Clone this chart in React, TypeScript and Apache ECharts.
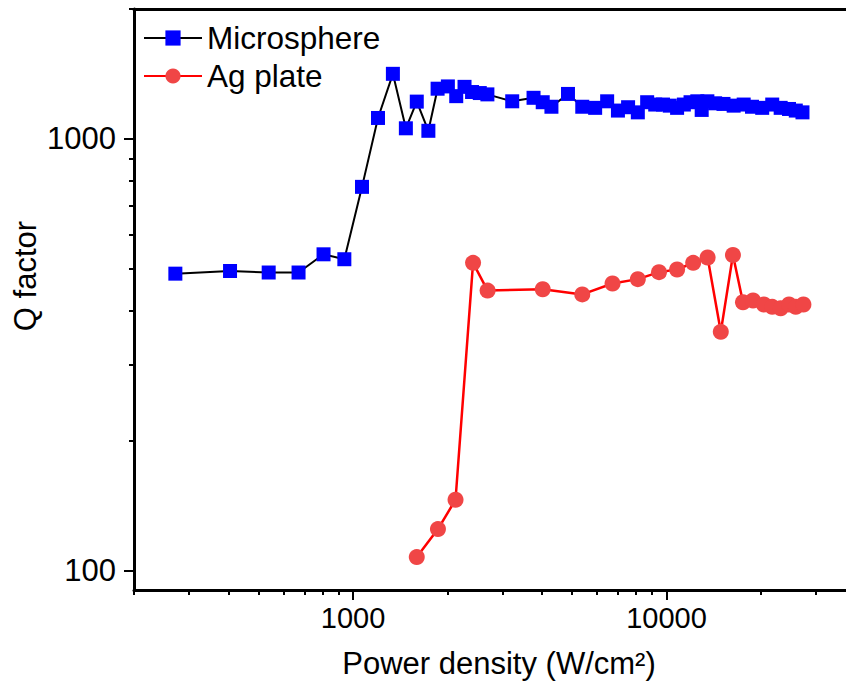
import React, { useEffect, useRef } from "react";
import * as echarts from "echarts";

// Microsphere data (power density W/cm², Q factor)
const microX = [271, 405, 538, 670, 805, 938, 1068, 1201, 1340, 1474, 1597, 1739, 1861, 2007, 2134, 2268, 2397, 2537, 2683, 3220, 3766, 4029, 4295, 4850, 5387, 5922, 6468, 7001, 7543, 8103, 8678, 9207, 9748, 10245, 10813, 11362, 11935, 12544, 12954, 13506, 14297, 15204, 16384, 17636, 18750, 20207, 21752, 23142, 24606, 25862, 27164];
const microY = [487, 494, 490, 490, 540, 526, 774, 1118, 1415, 1058, 1220, 1044, 1307, 1323, 1256, 1320, 1284, 1277, 1268, 1222, 1245, 1216, 1187, 1271, 1187, 1180, 1222, 1163, 1184, 1152, 1216, 1201, 1201, 1194, 1180, 1201, 1216, 1222, 1167, 1222, 1209, 1205, 1194, 1201, 1187, 1180, 1201, 1180, 1173, 1163, 1152];

// Ag plate data
const agX = [1597, 1866, 2123, 2415, 2687, 4029, 5387, 6728, 8103, 9467, 10813, 12170, 13530, 14907, 16297, 17546, 18890, 20457, 21752, 23142, 24606, 25862, 27355];
const agY = [107.3, 124.6, 145.7, 516, 445, 448, 436, 462, 473, 491, 498, 516, 531, 357, 538, 418, 422, 413, 408, 405, 413, 408, 413];

// Axis ticks
const xMajorTicks = [1000, 10000];
const xMinorTicks = [200, 300, 400, 500, 600, 700, 800, 900, 2000, 3000, 4000, 5000, 6000, 7000, 8000, 9000, 20000, 30000];
const yMajorTicks = [100, 1000];
const yMinorTicks = [200, 300, 400, 500, 600, 700, 800, 900, 2000];
const xMin = 200;
const xMax = 37400;
const yMin = 90;
const yMax = 2000;

const seriesNames = ["Microsphere", "Ag plate"];
const xTitle = "Power density (W/cm²)";
const yTitle = "Q factor";

const FONT = "'Liberation Sans', Arial, Helvetica, sans-serif";

export default function App() {
  const ref = useRef<HTMLDivElement>(null);
  useEffect(() => {
    if (!ref.current) return;
    const chart = echarts.init(ref.current, null, { renderer: "svg" });
    const fmt = (v: number) => String(Math.round(v));
    const option: any = {
      animation: false,
      backgroundColor: "#fff",
      grid: { left: 134, right: 0, top: 9, bottom: 94, containLabel: false },
      legend: {
        data: seriesNames,
        orient: "vertical",
        left: 143,
        top: 22,
        padding: 0,
        itemWidth: 58,
        itemHeight: 19,
        itemGap: 6,
        textStyle: { fontSize: 31.5, color: "#000", fontFamily: FONT, lineHeight: 30 },
      },
      xAxis: [
        {
          type: "log",
          min: xMin,
          max: xMax,
          position: "bottom",
          axisLine: { show: true, lineStyle: { color: "#000", width: 3 } },
          axisTick: { show: true, customValues: xMajorTicks, length: 10, lineStyle: { color: "#000", width: 2 } },
          axisLabel: { show: true, customValues: xMajorTicks, formatter: fmt, fontSize: 29, color: "#000", fontFamily: FONT, margin: 13 },
          splitLine: { show: false },
          minorTick: { show: false },
        },
        {
          type: "log",
          min: xMin,
          max: xMax,
          position: "bottom",
          axisLine: { show: false },
          axisTick: { show: true, customValues: xMinorTicks, length: 5, lineStyle: { color: "#000", width: 2 } },
          axisLabel: { show: false },
          splitLine: { show: false },
        },
        {
          type: "log",
          min: xMin,
          max: xMax,
          position: "top",
          axisLine: { show: true, lineStyle: { color: "#000", width: 3 } },
          axisTick: { show: false },
          axisLabel: { show: false },
          splitLine: { show: false },
        },
      ],
      yAxis: [
        {
          type: "log",
          min: yMin,
          max: yMax,
          position: "left",
          axisLine: { show: true, lineStyle: { color: "#000", width: 3 } },
          axisTick: { show: true, customValues: yMajorTicks, length: 10, lineStyle: { color: "#000", width: 2 } },
          axisLabel: { show: true, customValues: yMajorTicks, formatter: fmt, fontSize: 31, color: "#000", fontFamily: FONT, margin: 18 },
          splitLine: { show: false },
        },
        {
          type: "log",
          min: yMin,
          max: yMax,
          position: "left",
          axisLine: { show: false },
          axisTick: { show: true, customValues: yMinorTicks, length: 5, lineStyle: { color: "#000", width: 2 } },
          axisLabel: { show: false },
          splitLine: { show: false },
        },
      ],
      graphic: [
        {
          type: "text",
          x: 499,
          y: 663,
          style: { text: xTitle, fontSize: 31, fontFamily: FONT, fill: "#000", align: "center", verticalAlign: "middle" },
        },
        {
          type: "text",
          x: 25,
          y: 276,
          rotation: Math.PI / 2,
          style: { text: yTitle, fontSize: 31, fontFamily: FONT, fill: "#000", align: "center", verticalAlign: "middle" },
        },
      ],
      series: [
        {
          name: seriesNames[0],
          type: "line",
          xAxisIndex: 0,
          yAxisIndex: 0,
          data: microX.map((x, i) => [x, microY[i]]),
          symbol: "rect",
          symbolSize: 14,
          itemStyle: { color: "#0000FF" },
          lineStyle: { color: "#000", width: 2 },
          z: 3,
        },
        {
          name: seriesNames[1],
          type: "line",
          xAxisIndex: 0,
          yAxisIndex: 0,
          data: agX.map((x, i) => [x, agY[i]]),
          symbol: "circle",
          symbolSize: 16,
          itemStyle: { color: "#F04646" },
          lineStyle: { color: "#FF0000", width: 2.5 },
          z: 3,
        },
      ],
    };
    chart.setOption(option);
    return () => chart.dispose();
  }, []);
  return (
    <div
      ref={ref}
      style={{ position: "absolute", left: 0, top: 0, width: 846, height: 684 }}
    />
  );
}
